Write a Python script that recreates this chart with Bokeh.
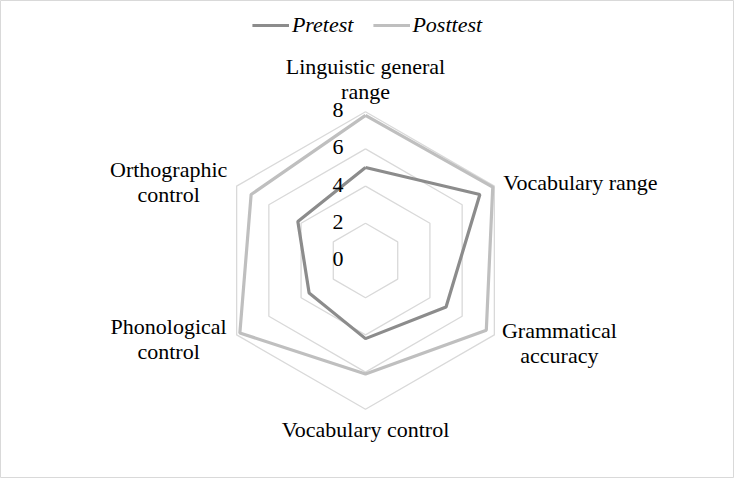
import numpy as np
from bokeh.plotting import figure
from bokeh.models import ColumnDataSource, Legend, LegendItem, Range1d
from bokeh.core.properties import value
from bokeh.embed import file_html
from bokeh.resources import INLINE

categories = ["Linguistic general\nrange", "Vocabulary range", "Grammatical\naccuracy",
              "Vocabulary control", "Phonological\ncontrol", "Orthographic\ncontrol"]
pretest = [5.0, 7.1, 5.0, 4.2, 3.5, 4.2]
posttest = [7.8, 7.9, 7.5, 6.1, 7.8, 7.1]
ticks = [0, 2, 4, 6, 8]
tick_labels = ["0", "2", "4", "6", "8"]

FONT = "Liberation Serif"
FS = "22px"
LINE_PX = 25
W, H = 734, 478
UNIT = 18.6          # pixels per data unit
CX, CY = 365, 260    # centre of radar in figure pixels

n = len(categories)
ang = np.pi / 2 - np.arange(n) * 2 * np.pi / n

p = figure(width=W, height=H, output_backend="svg", toolbar_location=None,
           x_range=Range1d(-CX / UNIT, (W - CX) / UNIT),
           y_range=Range1d(-(H - CY) / UNIT, CY / UNIT),
           min_border=0)
p.axis.visible = False
p.grid.visible = False
p.outline_line_color = "#d9d9d9"
p.outline_line_width = 1
p.background_fill_color = "white"
p.border_fill_color = "white"

def closed(vals):
    v = list(vals) + [vals[0]]
    a = list(ang) + [ang[0]]
    return [r * np.cos(t) for r, t in zip(v, a)], [r * np.sin(t) for r, t in zip(v, a)]

# grid rings
for t in ticks[1:]:
    gx, gy = closed([t] * n)
    p.line(gx, gy, line_color="#d9d9d9", line_width=1.3)

sx, sy = closed(pretest)
r1 = p.line(sx, sy, line_color="#8c8c8c", line_width=3.2)
px_, py_ = closed(posttest)
r2 = p.line(px_, py_, line_color="#bfbfbf", line_width=3.2)

# tick labels along the top axis
rmax = max(ticks)
p.text(x=[-22 / UNIT] * len(ticks), y=[t + 1.5 / UNIT for t in ticks], text=tick_labels,
       text_font=value(FONT), text_font_size=FS, text_color="#000000",
       text_align="right", text_baseline="middle")

# category labels, anchored at outer ring vertices with pixel offsets
offsets = [(0, 32.5, "center"), (9, 4, "left"), (65, -8, "center"),
           (0, -20, "center"), (-68, -4, "center"), (-68, 4, "center")]
lx, ly, lt, la = [], [], [], []
for i in range(n):
    vx, vy = rmax * np.cos(ang[i]), rmax * np.sin(ang[i])
    dx, dy, al = offsets[i]
    lines = categories[i].split("\n")
    k = len(lines)
    for j, line in enumerate(lines):
        lx.append(vx + dx / UNIT)
        ly.append(vy + (dy - (j - (k - 1) / 2) * LINE_PX) / UNIT)
        lt.append(line)
        la.append(al)
src = ColumnDataSource(dict(x=lx, y=ly, text=lt, align=la))
p.text(x="x", y="y", text="text", text_align="align", source=src,
       text_font=value(FONT), text_font_size=FS, text_color="#000000",
       text_baseline="middle")

legend = Legend(items=[LegendItem(label="Pretest", renderers=[r1]),
                       LegendItem(label="Posttest", renderers=[r2])],
                orientation="horizontal", location="top_center",
                label_text_font=FONT, label_text_font_style="italic",
                label_text_font_size=FS, label_text_color="#000000",
                label_standoff=3, glyph_width=37, spacing=19, padding=6, margin=12,
                border_line_color=None, background_fill_alpha=0)
p.add_layout(legend)

open("out.html", "w").write(file_html(p, INLINE))
